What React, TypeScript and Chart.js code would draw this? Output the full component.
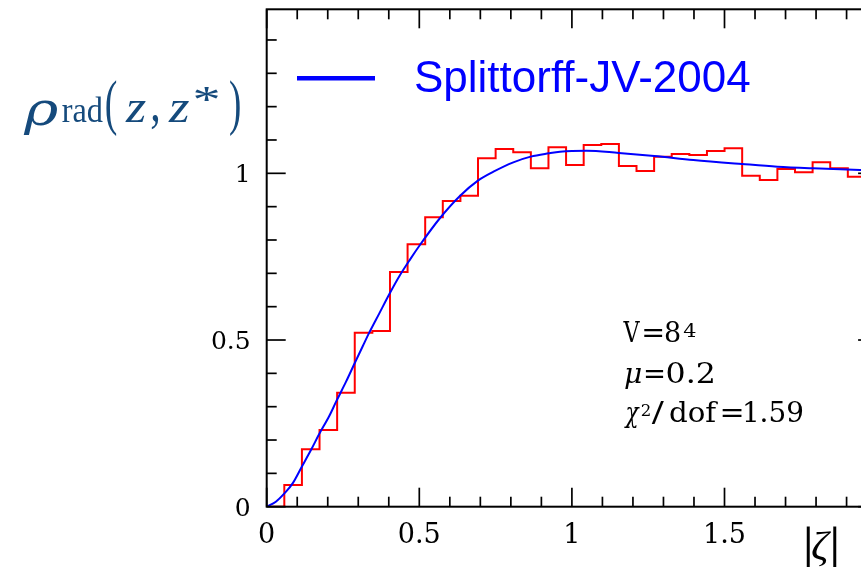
import React, { useEffect, useRef } from 'react';
import { Chart, registerables } from 'chart.js';

Chart.register(...registerables);

// Histogram bin edges (|zeta|) and bin heights (lattice data)
const binEdges = [
  0, 0.0577, 0.1154, 0.1731, 0.2308, 0.2885, 0.3462, 0.4039, 0.4616, 0.5193,
  0.577, 0.6347, 0.6924, 0.7501, 0.8078, 0.8655, 0.9232, 0.9809, 1.0386, 1.0963,
  1.154, 1.2117, 1.2694, 1.3271, 1.3848, 1.4425, 1.5002, 1.5579, 1.6156, 1.6733,
  1.731, 1.7887, 1.8464, 1.9041, 1.9618, 2.0195,
];
const histValues = [
  0, 0.065, 0.172, 0.23, 0.342, 0.522, 0.527, 0.704, 0.787, 0.868,
  0.917, 0.933, 1.045, 1.073, 1.063, 1.015, 1.078, 1.025, 1.085, 1.088,
  1.022, 1.007, 1.05, 1.058, 1.055, 1.067, 1.075, 0.993, 0.98, 1.013,
  1.003, 1.033, 1.015, 0.99, 1.0,
];

// Theory curve (Splittorff-JV-2004)
const curveX = [
  0, 0.03, 0.058, 0.085, 0.115, 0.145, 0.172, 0.205, 0.229, 0.26,
  0.287, 0.315, 0.336, 0.369, 0.402, 0.435, 0.47, 0.502, 0.568, 0.633,
  0.692, 0.743, 0.808, 0.865, 0.924, 0.961, 1.048, 1.154, 1.27, 1.398,
  1.557, 1.673, 1.789, 1.944, 2.0,
];
const curveY = [
  0, 0.015, 0.04, 0.07, 0.12, 0.17, 0.218, 0.272, 0.318, 0.375,
  0.428, 0.482, 0.522, 0.58, 0.638, 0.692, 0.742, 0.785, 0.866, 0.932,
  0.978, 1.005, 1.033, 1.05, 1.06, 1.065, 1.068, 1.061, 1.052, 1.04,
  1.028, 1.02, 1.015, 1.01, 1.008,
];

const xTickValues = [0, 0.5, 1, 1.5, 2];
const xTickLabels = ['0', '0.5', '1', '1.5', '2'];
const yTickValues = [0, 0.5, 1];
const yTickLabels = ['0', '0.5', '1'];
const legendLabel = 'Splittorff-JV-2004';

const X_MIN = 0;
const X_MAX = 2.0;
const Y_MIN = 0;
const Y_MAX = 1.492;
const MINOR_STEP = 0.1;

const CANVAS_W = 900;
const CANVAS_H = 571;

// draw text so that its ink box fills the given box
function fitText(
  ctx: CanvasRenderingContext2D,
  text: string,
  font: string,
  left: number,
  right: number,
  top: number,
  bottom: number
) {
  ctx.font = font;
  ctx.textAlign = 'left';
  ctx.textBaseline = 'alphabetic';
  const m = ctx.measureText(text);
  const inkL = m.actualBoundingBoxLeft;
  const inkR = m.actualBoundingBoxRight;
  const asc = m.actualBoundingBoxAscent;
  const desc = m.actualBoundingBoxDescent;
  const sx = (right - left) / Math.max(1, inkL + inkR);
  const sy = (bottom - top) / Math.max(1, asc + desc);
  ctx.save();
  ctx.translate(left + inkL * sx, top + asc * sy);
  ctx.scale(sx, sy);
  ctx.fillText(text, 0, 0);
  ctx.restore();
}

// draw text on a baseline so that its ink spans [left, right] horizontally
function fitTextX(
  ctx: CanvasRenderingContext2D,
  text: string,
  font: string,
  left: number,
  right: number,
  baseline: number
) {
  ctx.font = font;
  ctx.textAlign = 'left';
  ctx.textBaseline = 'alphabetic';
  const m = ctx.measureText(text);
  const inkL = m.actualBoundingBoxLeft;
  const inkR = m.actualBoundingBoxRight;
  const sx = (right - left) / Math.max(1, inkL + inkR);
  ctx.save();
  ctx.translate(left + inkL * sx, baseline);
  ctx.scale(sx, 1);
  ctx.fillText(text, 0, 0);
  ctx.restore();
}

const decorPlugin = {
  id: 'decor',
  afterDraw(chart: any) {
    const { ctx, chartArea: a, scales } = chart;
    const xs = scales.x;
    const ys = scales.y;
    ctx.save();

    // frame
    ctx.strokeStyle = '#000';
    ctx.lineWidth = 2;
    ctx.strokeRect(a.left, a.top, a.right - a.left, a.bottom - a.top);

    // inward ticks
    ctx.lineWidth = 1.7;
    const seg = (x1: number, y1: number, x2: number, y2: number) => {
      ctx.beginPath();
      ctx.moveTo(x1, y1);
      ctx.lineTo(x2, y2);
      ctx.stroke();
    };
    const nx = Math.round((X_MAX - X_MIN) / MINOR_STEP);
    for (let i = 0; i <= nx; i++) {
      const px = xs.getPixelForValue(X_MIN + i * MINOR_STEP);
      const len = i % 5 === 0 ? 19 : 10;
      seg(px, a.bottom, px, a.bottom - len);
      seg(px, a.top, px, a.top + len);
    }
    const ny = Math.floor((Y_MAX - Y_MIN) / MINOR_STEP + 1e-6);
    for (let i = 0; i <= ny; i++) {
      const py = ys.getPixelForValue(Y_MIN + i * MINOR_STEP);
      const len = i % 5 === 0 ? 19 : 10;
      seg(a.left, py, a.left + len, py);
      seg(a.right, py, a.right - len, py);
    }

    // tick labels
    ctx.fillStyle = '#000';
    ctx.font = "27px 'DejaVu Serif'";
    ctx.textAlign = 'center';
    ctx.textBaseline = 'alphabetic';
    xTickValues.forEach((v, i) => {
      ctx.fillText(xTickLabels[i], xs.getPixelForValue(v), a.bottom + 36);
    });
    ctx.font = "25px 'DejaVu Serif'";
    ctx.textAlign = 'right';
    yTickValues.forEach((v, i) => {
      ctx.fillText(yTickLabels[i], a.left - 16, ys.getPixelForValue(v) + 9);
    });

    // x-axis title |ζ|
    ctx.fillStyle = '#000';
    fitText(ctx, '|', "40px 'Liberation Serif'", 806.7, 809.7, 527, 568);
    fitText(ctx, 'ζ', "italic 40px 'Liberation Serif'", 812, 831.5, 531, 567);
    fitText(ctx, '|', "40px 'Liberation Serif'", 833.3, 836.3, 527, 568);

    // y-axis title ρ_rad(z, z*)
    ctx.fillStyle = '#154a7c';
    fitText(ctx, 'ρ', "italic 48px 'DejaVu Serif'", 23, 58, 100, 135);
    fitText(ctx, 'rad', "36px 'Liberation Serif'", 61.7, 103, 96.5, 122);
    fitText(ctx, '(', "60px 'Liberation Serif'", 106, 116.7, 80.7, 136.7);
    fitText(ctx, 'z', "italic 48px 'Liberation Serif'", 125, 146.7, 100, 121.7);
    fitText(ctx, ',', "48px 'Liberation Serif'", 151, 158, 115, 130);
    fitText(ctx, 'z', "italic 48px 'Liberation Serif'", 168, 190, 100, 121.7);
    fitText(ctx, '*', "36px 'Liberation Serif'", 194, 219, 87, 101.7);
    fitText(ctx, ')', "60px 'Liberation Serif'", 229.5, 240, 80.7, 136.7);

    // legend
    ctx.strokeStyle = '#0000ff';
    ctx.lineWidth = 4.5;
    seg(297, 78.3, 375, 78.3);
    ctx.fillStyle = '#0000ff';
    ctx.textAlign = 'left';
    ctx.textBaseline = 'alphabetic';
    ctx.font = "44px 'Liberation Sans'";
    ctx.fillText(legendLabel, 414, 92);

    // annotations
    ctx.fillStyle = '#000';
    const reg = "27px 'DejaVu Serif'";
    const ital = "italic 27px 'DejaVu Serif'";
    const sup = "18px 'DejaVu Serif'";
    const sup2 = "17px 'DejaVu Serif'";
    // V=8^4
    fitTextX(ctx, 'V', reg, 622.7, 640, 342);
    fitTextX(ctx, '=', reg, 643.3, 662.3, 342);
    fitTextX(ctx, '8', reg, 665, 680, 342);
    fitTextX(ctx, '4', sup, 683.3, 696, 337);
    // mu=0.2
    fitTextX(ctx, 'μ', ital, 625, 641.7, 383);
    fitTextX(ctx, '=', reg, 645, 663.3, 383);
    fitTextX(ctx, '0.2', reg, 666.7, 713.3, 383);
    // chi^2/dof=1.59
    fitTextX(ctx, 'χ', ital, 624, 640, 422);
    fitTextX(ctx, '2', sup2, 641.7, 650.5, 416);
    fitTextX(ctx, '/', reg, 651.7, 665, 422);
    fitTextX(ctx, 'dof', reg, 670, 718.3, 422);
    fitTextX(ctx, '=', reg, 721.7, 741.7, 422);
    fitTextX(ctx, '1.59', reg, 745, 802.7, 422);

    ctx.restore();
  },
};

export default function App() {
  const ref = useRef<HTMLCanvasElement | null>(null);

  useEffect(() => {
    if (!ref.current) return;
    const histPoints = histValues.map((v, k) => ({ x: binEdges[k], y: v }));
    histPoints.push({ x: binEdges[histValues.length], y: histValues[histValues.length - 1] });
    const curvePoints = curveX.map((x, i) => ({ x, y: curveY[i] }));

    const chart = new Chart(ref.current, {
      type: 'line',
      data: {
        datasets: [
          {
            label: legendLabel,
            data: curvePoints,
            borderColor: '#0000ff',
            borderWidth: 2,
            pointRadius: 0,
            fill: false,
            cubicInterpolationMode: 'monotone',
          },
          {
            label: 'data',
            data: histPoints,
            borderColor: '#ff0000',
            borderWidth: 2,
            pointRadius: 0,
            fill: false,
            stepped: true,
          },
        ],
      },
      options: {
        responsive: false,
        animation: false,
        devicePixelRatio: 1,
        layout: {
          padding: {
            left: 266.7,
            top: 9.3,
            right: CANVAS_W - (266.7 + 610.4),
            bottom: CANVAS_H - 506.7,
          },
        },
        plugins: {
          legend: { display: false },
          tooltip: { enabled: false },
        },
        scales: {
          x: { type: 'linear', min: X_MIN, max: X_MAX, display: false },
          y: { type: 'linear', min: Y_MIN, max: Y_MAX, display: false },
        },
      },
      plugins: [decorPlugin],
    });
    return () => chart.destroy();
  }, []);

  return (
    <div
      style={{
        position: 'absolute',
        left: 0,
        top: 0,
        width: 861,
        height: 571,
        overflow: 'hidden',
        background: '#fff',
      }}
    >
      <canvas ref={ref} width={CANVAS_W} height={CANVAS_H} />
    </div>
  );
}
